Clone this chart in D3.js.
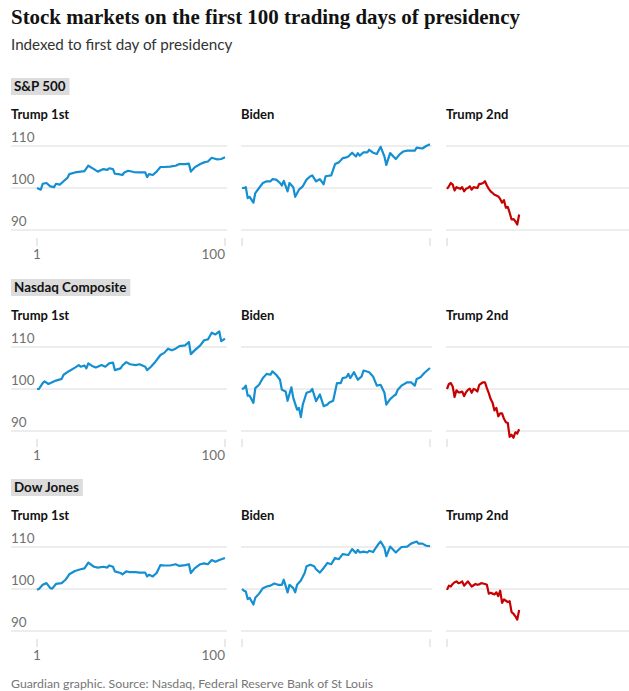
<!DOCTYPE html>
<html>

<head>
    <meta charset="UTF-8" />
    <title>Stock markets on the first 100 trading days of presidency</title>
    <script src="https://d3js.org/d3.v7.min.js"></script>
    <style>
        body {
            margin: 0;
            background: white;
        }

        text {
            font-family: Lato, "Open Sans", sans-serif;
        }

        .title {
            font-family: "Liberation Serif", serif;
            font-weight: bold;
            font-size: 21px;
            fill: #121212;
        }

        .grid line {
            stroke: #dcdcdc;
            stroke-width: 1;
        }

        .tick-label {
            font-size: 13.5px;
            fill: #707070;
        }
    </style>
</head>

<body>
    <svg width="629" height="691"></svg>

    <script>
        // chart values ([trading day, index value])
        var indexNames = ["S&P 500", "Nasdaq Composite", "Dow Jones"];
        var termNames = ["Trump 1st", "Biden", "Trump 2nd"];
        var yTicks = [90, 100, 110];
        var xTickLabels = [1, 100];

        var spTrump1 = [[1, 100], [3, 99.6], [4, 101], [6, 101.2], [8, 100.4], [10, 100.2], [11, 101], [13, 100.8], [15, 101.6], [17, 102.4], [18, 103.3], [21, 103.7], [24, 103.9], [26, 104], [28, 105.3], [31, 104.5], [33, 103.9], [36, 104.5], [38, 104.3], [39, 104.7], [41, 104.5], [42, 103.4], [44, 103.3], [46, 103.1], [47, 103.7], [49, 104.1], [52, 103.8], [55, 103.7], [58, 103.7], [59, 102.6], [60, 103.3], [62, 103.1], [64, 103.9], [66, 105], [68, 105], [71, 105.1], [74, 105.3], [76, 105.7], [79, 105.7], [81, 105.8], [82, 103.9], [84, 104.9], [87, 105.7], [89, 106.1], [91, 106.3], [93, 107.2], [96, 106.8], [98, 106.9], [100, 107.3]];
        var spBiden = [[1, 100], [2, 100], [3, 100.2], [4, 97.6], [5, 97.9], [7, 96.5], [8, 98.8], [10, 100], [12, 101.2], [14, 101.6], [16, 101.6], [17, 102.1], [19, 102], [21, 101.2], [22, 100.6], [23, 101.7], [25, 99.2], [26, 101.2], [28, 100.2], [29, 97.9], [31, 99.6], [33, 100.4], [35, 102], [37, 102.8], [38, 103], [40, 101.6], [42, 102.1], [44, 100.9], [45, 102.8], [48, 103], [50, 105.7], [52, 106.1], [54, 107.1], [56, 107.3], [57, 107.5], [59, 108.4], [61, 107.5], [62, 108.3], [63, 107.7], [65, 108.5], [67, 108.5], [68, 109.1], [70, 108.4], [72, 108.1], [74, 109.8], [76, 107.5], [77, 105.5], [79, 108.3], [82, 106.9], [84, 108], [86, 108.7], [88, 108.9], [92, 108.9], [93, 109.6], [96, 109.4], [98, 110], [100, 110.4]];
        var spTrump2 = [[1, 99.8], [2, 100.4], [3, 101.2], [4, 100.8], [5, 99.4], [6, 100.2], [7, 100], [8, 99.8], [9, 100.2], [10, 99.2], [11, 99.8], [12, 100], [13, 100.4], [14, 99.6], [15, 100.2], [16, 100.1], [17, 100], [18, 101], [19, 101], [20, 101.2], [21, 101.6], [22, 100.6], [23, 99.8], [24, 99.2], [25, 98.8], [26, 98.4], [27, 98.2], [28, 98], [29, 97.4], [30, 96.5], [31, 97.1], [32, 95.3], [33, 95.5], [34, 94.1], [35, 92.5], [36, 92.6], [37, 92.1], [38, 91.3], [39, 93.7]];

        var nqTrump1 = [[1, 100], [2, 100], [4, 101.4], [5, 101.8], [7, 101.2], [9, 101.6], [11, 102], [14, 102.4], [15, 103.4], [18, 104.3], [21, 105.1], [23, 105.7], [24, 105.3], [26, 105.6], [27, 104.9], [28, 106.1], [30, 105.5], [32, 105.1], [35, 105.7], [37, 105.3], [39, 106.1], [41, 106.3], [42, 104.5], [45, 104.9], [46, 105.6], [48, 106.4], [50, 105.9], [53, 105.7], [55, 105.9], [58, 105.3], [59, 104.5], [61, 105.3], [63, 106.3], [66, 108.1], [68, 108.6], [70, 109.6], [72, 109.2], [74, 109.6], [76, 110.2], [79, 110.4], [81, 111.2], [82, 108.3], [84, 109.2], [87, 110.4], [89, 111.6], [91, 111.8], [93, 113.4], [95, 113], [97, 113.7], [98, 111.4], [100, 112]];
        var nqBiden = [[1, 100], [2, 100.2], [3, 100.8], [4, 98.4], [5, 98.4], [7, 96.7], [8, 100.2], [10, 101], [12, 102.6], [14, 103.6], [16, 103.4], [17, 104.2], [19, 103.4], [21, 102.2], [22, 99.8], [24, 99.4], [25, 97.2], [27, 100.4], [28, 97.9], [30, 95.1], [31, 95.5], [32, 93.3], [33, 96.3], [35, 99.1], [37, 99.4], [38, 100], [40, 97.1], [42, 98.7], [44, 95.9], [46, 96.3], [47, 96.8], [49, 97.2], [51, 101.4], [53, 101.4], [54, 102.6], [56, 102.8], [57, 103.6], [58, 102.6], [60, 104], [62, 102.2], [64, 103], [65, 104.4], [68, 104], [70, 103], [72, 100.8], [74, 101], [76, 99.1], [77, 96.3], [79, 97.6], [81, 98.4], [82, 98.7], [83, 99.8], [85, 100.8], [88, 101.6], [90, 101.6], [92, 100.8], [93, 102.4], [95, 102.8], [97, 103.8], [100, 105]];
        var nqTrump2 = [[1, 100], [2, 101.2], [3, 101.4], [4, 100.6], [5, 98.1], [6, 99.7], [7, 99.2], [8, 99.2], [9, 99.4], [10, 98.3], [11, 99.2], [12, 99.8], [13, 100.1], [14, 99.1], [15, 100], [16, 99.8], [17, 99.4], [18, 101], [19, 101.3], [20, 101.6], [21, 101.6], [22, 100.2], [23, 99], [24, 97.6], [25, 96.7], [26, 94.9], [27, 95.5], [28, 93.5], [29, 94.2], [30, 94.2], [31, 92.9], [32, 92.1], [33, 91.9], [34, 88.6], [35, 89.1], [36, 88.4], [37, 89.7], [38, 89.4], [39, 90.4]];

        var djTrump1 = [[1, 99.8], [2, 100], [4, 101], [6, 101.4], [8, 100.2], [9, 100.1], [11, 101.2], [14, 101.4], [16, 102.2], [18, 103.5], [21, 104.3], [24, 104.7], [26, 104.9], [28, 106.3], [31, 105.3], [33, 105.1], [36, 105.3], [38, 105.1], [39, 105.6], [41, 105.3], [42, 104.2], [45, 103.8], [46, 103.5], [48, 104.2], [50, 104], [53, 104], [55, 103.9], [58, 103.9], [59, 103], [60, 103.4], [62, 103], [64, 103.8], [66, 105.7], [68, 105.6], [71, 105.6], [74, 105.9], [76, 105.5], [79, 105.7], [81, 105.9], [82, 103.8], [84, 104.9], [87, 105.9], [89, 106.1], [91, 105.9], [93, 106.9], [95, 106.5], [97, 106.9], [100, 107.4]];
        var djBiden = [[1, 100], [2, 99.6], [3, 99.4], [4, 97.6], [5, 97.9], [7, 96.3], [8, 97.9], [10, 98.9], [12, 100.2], [14, 100.6], [16, 100.8], [18, 101.3], [20, 101], [22, 101], [23, 102.2], [25, 99.2], [26, 101], [28, 100.2], [29, 99.2], [30, 101], [32, 102], [34, 103.8], [35, 105.4], [37, 105.8], [39, 105.4], [40, 104.7], [42, 103.9], [44, 105], [46, 106.2], [48, 105.9], [50, 107.4], [52, 107.1], [54, 108.3], [57, 108.1], [59, 109.5], [61, 108.6], [62, 109.3], [63, 108.7], [65, 108.9], [67, 108.7], [68, 109.1], [70, 108.8], [71, 109.5], [73, 110.8], [74, 111.3], [76, 109.8], [77, 107.8], [79, 110.1], [82, 108.7], [85, 110], [88, 110.1], [90, 110.8], [93, 111.3], [94, 110.8], [96, 110.8], [98, 110.3], [100, 110.2]];
        var djTrump2 = [[1, 99.8], [2, 100.8], [3, 100.6], [4, 101.2], [5, 101.6], [6, 101.8], [7, 101.4], [8, 101.5], [9, 101.8], [10, 100.8], [11, 101.3], [12, 101.8], [13, 101.2], [14, 100.6], [15, 100.9], [16, 101.2], [17, 101], [18, 101.1], [19, 101.4], [20, 101.3], [21, 101.2], [22, 101], [23, 98.9], [24, 99.1], [25, 98.9], [26, 98.7], [27, 99.2], [28, 98.3], [29, 99.6], [30, 96.7], [31, 97.5], [32, 97.2], [33, 96.9], [34, 97.1], [35, 94.5], [36, 94.1], [37, 93.5], [38, 92.7], [39, 95]];

        var allSeries = [
            [spTrump1, spBiden, spTrump2],
            [nqTrump1, nqBiden, nqTrump2],
            [djTrump1, djBiden, djTrump2]
        ];
        var termColors = ["#148fd2", "#148fd2", "#c70000"];

        var svg = d3.select("svg");

        // headline, standfirst and footer
        svg.append("text").attr("class", "title")
            .attr("x", 11).attr("y", 24)
            .attr("textLength", 509).attr("lengthAdjust", "spacingAndGlyphs")
            .text("Stock markets on the first 100 trading days of presidency");
        svg.append("text")
            .attr("x", 11).attr("y", 50)
            .style("font-size", "15.2px").style("fill", "#333")
            .text("Indexed to first day of presidency");
        svg.append("text")
            .attr("x", 11).attr("y", 688)
            .style("font-size", "12.3px").style("fill", "#767676")
            .text("Guardian graphic. Source: Nasdaq, Federal Reserve Bank of St Louis");

        // layout of the small multiples
        var colLeft = [37, 242, 447];
        var panelW = 188;
        var rowTop = [0, 201, 401];

        var xScales = colLeft.map(function (l) {
            return d3.scaleLinear().domain([1, 100]).range([l, l + panelW]);
        });

        indexNames.forEach(function (name, r) {
            var off = rowTop[r];
            var yScale = d3.scaleLinear().domain([90, 110]).range([230 + off, 146 + off]);

            // grey label box for the index name
            var g = svg.append("g");
            var label = g.append("text")
                .attr("x", 14).attr("y", 91 + off)
                .style("font-size", "13.4px").style("font-weight", "bold").style("fill", "#121212")
                .text(name);
            var w = label.node().getComputedTextLength();
            g.insert("rect", "text")
                .attr("x", 11).attr("y", 78 + off)
                .attr("width", w + 7).attr("height", 17)
                .style("fill", "#dcdcdc");

            termNames.forEach(function (term, c) {
                var xScale = xScales[c];
                var panel = svg.append("g");

                panel.append("text")
                    .attr("x", c == 0 ? 11 : colLeft[c] - 1).attr("y", 119 + off)
                    .style("font-size", "13px").style("font-weight", "bold").style("fill", "#121212")
                    .text(term);

                // horizontal gridlines
                panel.append("g").attr("class", "grid")
                    .selectAll("line").data(yTicks).enter().append("line")
                    .attr("x1", c == 0 ? 11 : colLeft[c] - 1)
                    .attr("x2", colLeft[c] + panelW + 2)
                    .attr("y1", d => yScale(d)).attr("y2", d => yScale(d));

                // tick marks at day 1 and day 100
                panel.selectAll(".xtick").data(xTickLabels).enter().append("line")
                    .attr("x1", d => xScale(d)).attr("x2", d => xScale(d))
                    .attr("y1", 238 + off).attr("y2", 246 + off)
                    .style("stroke", "#d4d4d4");

                if (c == 0) {
                    panel.selectAll(".ylab").data(yTicks).enter().append("text")
                        .attr("class", "tick-label")
                        .attr("x", 11).attr("y", d => yScale(d) - 4)
                        .text(d => d);

                    panel.selectAll(".xlab").data(xTickLabels).enter().append("text")
                        .attr("class", "tick-label")
                        .attr("x", d => xScale(d)).attr("y", 259 + off)
                        .attr("text-anchor", (d, i) => i == 0 ? "middle" : "end")
                        .text(d => d);
                }

                var line = d3.line()
                    .x(d => xScale(d[0]))
                    .y(d => yScale(d[1]));

                panel.append("path")
                    .datum(allSeries[r][c])
                    .attr("fill", "none")
                    .attr("stroke", termColors[c])
                    .attr("stroke-width", 2.2)
                    .attr("stroke-linejoin", "round")
                    .attr("d", line);
            });
        });
    </script>
</body>

</html>
